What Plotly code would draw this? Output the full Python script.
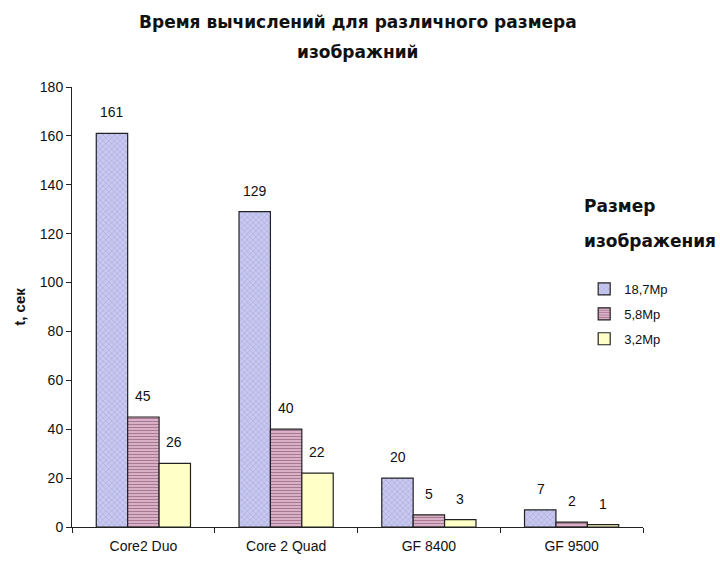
import plotly.graph_objects as go

categories = ["Core2 Duo", "Core 2 Quad", "GF 8400", "GF 9500"]
series_names = ["18,7Mp", "5,8Mp", "3,2Mp"]
s1 = [161, 129, 20, 7]
s2 = [45, 40, 5, 2]
s3 = [26, 22, 3, 1]
values = [s1, s2, s3]

FONT = "Liberation Sans, Arial, sans-serif"
BOLD = "DejaVu Sans, Liberation Sans, Arial, sans-serif"

styles = [
    dict(color="#c4c4ee", pattern=dict(shape="x", fgcolor="#8c8cd0", bgcolor="#c8c8f0", size=4, solidity=0.3)),
    dict(color="#e0b8d0", pattern=dict(shape="-", fgcolor="#6a2e50", bgcolor="#e8c4d8", size=3, solidity=0.5)),
    dict(color="#ffffc8"),
]

fig = go.Figure()
for i, (name, vals) in enumerate(zip(series_names, values)):
    fig.add_trace(go.Bar(
        x=categories, y=vals, name=name, legendgroup=name,
        marker=dict(line=dict(color="#222222", width=1.2), **styles[i]),
    ))

annotations = []
bar_px = 31
for i, vals in enumerate(values):
    for c, v in zip(categories, vals):
        annotations.append(dict(
            x=c, y=v, text=str(v), showarrow=False, xref="x", yref="y",
            xshift=(i - 1) * bar_px, yshift=21,
            font=dict(family=FONT, size=14, color="#111"),
        ))

# chart title (two lines)
annotations.append(dict(
    x=0.5, y=1.148, xref="paper", yref="paper", xanchor="center", yanchor="middle",
    text="<b>Время вычислений для различного размера</b>", showarrow=False,
    font=dict(family=BOLD, size=17, color="#111"),
))
annotations.append(dict(
    x=0.5, y=1.0795, xref="paper", yref="paper", xanchor="center", yanchor="middle",
    text="<b>изображний</b>", showarrow=False,
    font=dict(family=BOLD, size=17, color="#111"),
))
# legend title
annotations.append(dict(
    x=0.893, y=0.73, xref="paper", yref="paper", xanchor="left", yanchor="middle",
    text="<b>Размер</b>", showarrow=False, align="left",
    font=dict(family=BOLD, size=17, color="#111"),
))
annotations.append(dict(
    x=0.893, y=0.65, xref="paper", yref="paper", xanchor="left", yanchor="middle",
    text="<b>изображения</b>", showarrow=False, align="left",
    font=dict(family=BOLD, size=17, color="#111"),
))

fig.update_layout(
    width=720, height=563,
    paper_bgcolor="white", plot_bgcolor="white",
    margin=dict(l=72, r=77, t=87, b=36),
    barmode="group", bargap=0.34, bargroupgap=0,
    font=dict(family=FONT, size=14, color="#111"),
    showlegend=True,
    legend=dict(
        x=0.897, y=0.575, xanchor="left", yanchor="top",
        font=dict(family=FONT, size=13, color="#111"),
        tracegroupgap=5, itemwidth=30, bgcolor="rgba(0,0,0,0)",
    ),
    annotations=annotations,
)
fig.update_xaxes(
    showline=True, linecolor="#222", linewidth=1, automargin=False,
    ticks="outside", tickson="boundaries", ticklen=5, tickcolor="#222",
    showgrid=False, tickfont=dict(size=14), ticklabelstandoff=6,
)
fig.update_yaxes(
    range=[0, 180], dtick=20, showline=True, linecolor="#222", linewidth=1,
    ticks="outside", ticklen=5, tickcolor="#222", showgrid=False, zeroline=False,
    tickfont=dict(size=14), automargin=False,
    title=dict(text="<b>t, сек</b>", font=dict(size=15), standoff=10),
)

fig.write_html("out.html")
